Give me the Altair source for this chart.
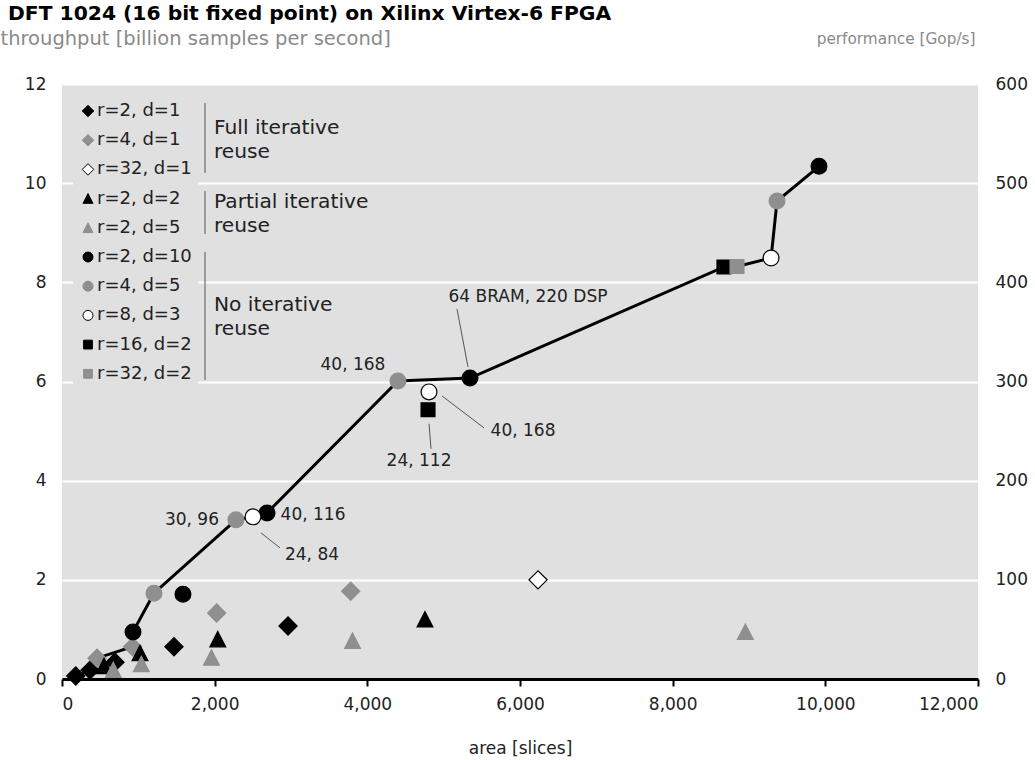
import altair as alt
import pandas as pd

# ---- palette / fonts -------------------------------------------------------
BLACK = "#000000"
GRAY = "#8f8f8f"
WHITE = "#ffffff"
INK = "#222222"
MUTED = "#8a8a8a"
PANEL = "#e0e0e0"
RULE = "#555555"
FONT = "DejaVu Sans"

# unit-box symbol paths so diamonds, triangles and squares read at similar weight
DIAMOND = "M-1.15,0L0,-1.15L1.15,0L0,1.15Z"
TRIANGLE = "M0,-1L1,0.95L-1,0.95Z"
SQUARE = "M-0.88,-0.88H0.88V0.88H-0.88Z"

# ---- design series (radix r, depth d) --------------------------------------
SERIES = ["r=2, d=1", "r=4, d=1", "r=32, d=1",
          "r=2, d=2", "r=2, d=5",
          "r=2, d=10", "r=4, d=5", "r=8, d=3", "r=16, d=2", "r=32, d=2"]
SHAPES = [DIAMOND, DIAMOND, DIAMOND,
          TRIANGLE, TRIANGLE,
          "circle", "circle", "circle", SQUARE, SQUARE]
FILLS = [BLACK, GRAY, WHITE, BLACK, GRAY, BLACK, GRAY, WHITE, BLACK, GRAY]
STROKES = [BLACK, GRAY, BLACK, BLACK, GRAY, BLACK, GRAY, BLACK, BLACK, GRAY]

# area [slices]
area_r2_d1 = [180, 367, 694, 1467, 2961]
area_r4_d1 = [459, 925, 2026, 3782]
area_r32_d1 = [6236]
area_r2_d2 = [550, 1022, 2041, 4755]
area_r2_d5 = [672, 1039, 1958, 3806, 8952]
area_r2_d10 = [930, 1585, 2686, 5345, 9917]
area_r4_d5 = [1205, 2279, 4401, 9367]
area_r8_d3 = [2502, 4808, 9289]
area_r16_d2 = [4795, 8672]
area_r32_d2 = [8843]

# throughput [billion samples per second]
tput_r2_d1 = [0.06, 0.18, 0.34, 0.65, 1.07]
tput_r4_d1 = [0.42, 0.65, 1.33, 1.77]
tput_r32_d1 = [2.0]
tput_r2_d2 = [0.26, 0.52, 0.80, 1.20]
tput_r2_d5 = [0.18, 0.30, 0.43, 0.77, 0.95]
tput_r2_d10 = [0.95, 1.71, 3.35, 6.07, 10.34]
tput_r4_d5 = [1.73, 3.21, 6.01, 9.64]
tput_r8_d3 = [3.27, 5.79, 8.49]
tput_r16_d2 = [5.43, 8.31]
tput_r32_d2 = [8.32]

AREAS = [area_r2_d1, area_r4_d1, area_r32_d1, area_r2_d2, area_r2_d5,
         area_r2_d10, area_r4_d5, area_r8_d3, area_r16_d2, area_r32_d2]
TPUTS = [tput_r2_d1, tput_r4_d1, tput_r32_d1, tput_r2_d2, tput_r2_d5,
         tput_r2_d10, tput_r4_d5, tput_r8_d3, tput_r16_d2, tput_r32_d2]

# resource annotations: (series, point index, text, dx, dy)
NOTES = [
    ("r=2, d=10", 3, "64 BRAM, 220 DSP", 58, -81),
    ("r=4, d=5", 2, "40, 168", -45, -16),
    ("r=8, d=3", 1, "40, 168", 94, 39),
    ("r=16, d=2", 0, "24, 112", -9, 51),
    ("r=4, d=5", 1, "30, 96", -44, 0),
    ("r=2, d=10", 2, "40, 116", 46, 2),
    ("r=8, d=3", 0, "24, 84", 59, 38),
]
# leader lines: (series, point index, start offset, end offset) in px
LEADERS = [
    ("r=2, d=10", 3, (-13, -69), (-2, -11)),
    ("r=8, d=3", 1, (13, 4), (55, 36)),
    ("r=16, d=2", 0, (1, 14), (3, 39)),
    ("r=8, d=3", 0, (8, 16), (27, 31)),
]

# ---- tables ----------------------------------------------------------------
rows = []
for name, xs, ys in zip(SERIES, AREAS, TPUTS):
    for a, t in zip(xs, ys):
        rows.append({"series": name, "area": a, "throughput": t})
points = pd.DataFrame(rows)

# throughput/area Pareto front (the connected designs)
ordered = points.sort_values(["area", "throughput"], ascending=[True, False])
best = float("-inf")
front_rows = []
for _, r in ordered.iterrows():
    if r["throughput"] > best:
        front_rows.append(r)
        best = r["throughput"]
front = pd.DataFrame(front_rows).reset_index(drop=True)
front["order"] = range(len(front))


def point_of(series, idx):
    k = SERIES.index(series)
    return AREAS[k][idx], TPUTS[k][idx]


# ---- scales / axes -----------------------------------------------------------
XS = alt.Scale(domain=[0, 12000], nice=False, zero=True)
YS = alt.Scale(domain=[0, 12], nice=False, zero=True)

X_AXIS = alt.Axis(values=list(range(0, 12001, 2000)), format=",.0f", grid=False,
                  domain=True, domainColor=BLACK, domainWidth=3,
                  ticks=True, tickColor=BLACK, tickWidth=2, tickSize=7,
                  labelPadding=10, zindex=1,
                  title="area [slices]", titlePadding=28)
Y_AXIS = alt.Axis(values=list(range(0, 13, 2)), grid=True, gridColor=WHITE,
                  gridWidth=2, ticks=False, domain=False, labelPadding=16,
                  title="throughput [billion samples per second]",
                  titleAngle=0, titleAlign="left", titleBaseline="middle",
                  titleX=-62, titleY=-46, titleColor=MUTED, titleFontSize=19.5)

x_enc = alt.X("area:Q", scale=XS, axis=X_AXIS)
y_enc = alt.Y("throughput:Q", scale=YS, axis=Y_AXIS)

legend = alt.Legend(orient="none", legendX=11, legendY=12, title=None,
                    fillColor=PANEL, padding=6, rowPadding=11.2,
                    symbolSize=100, symbolStrokeWidth=1, labelOffset=0,
                    labelFontSize=18, labelColor=INK, labelFont=FONT)

front_line = alt.Chart(front).mark_line(color=BLACK, strokeWidth=3).encode(
    x=x_enc, y=y_enc, order="order:Q")

designs = alt.Chart(points).mark_point(
    filled=True, opacity=1, strokeWidth=1.2, size=250).encode(
    x=x_enc, y=y_enc,
    shape=alt.Shape("series:N", scale=alt.Scale(domain=SERIES, range=SHAPES),
                    legend=legend),
    fill=alt.Fill("series:N", scale=alt.Scale(domain=SERIES, range=FILLS),
                  legend=legend),
    stroke=alt.Stroke("series:N", scale=alt.Scale(domain=SERIES, range=STROKES),
                      legend=legend),
)

layers = [front_line]

for series, idx, (sx, sy), (ex, ey) in LEADERS:
    a, t = point_of(series, idx)
    df = pd.DataFrame([{"area": a, "throughput": t}])
    layers.append(alt.Chart(df).mark_rule(
        color=RULE, strokeWidth=1,
        xOffset=sx, yOffset=sy, x2Offset=ex, y2Offset=ey).encode(
        x=x_enc, y=y_enc, x2="area:Q", y2="throughput:Q"))

layers.append(designs)

for series, idx, text, dx, dy in NOTES:
    a, t = point_of(series, idx)
    df = pd.DataFrame([{"area": a, "throughput": t, "label": text}])
    layers.append(alt.Chart(df).mark_text(
        dx=dx, dy=dy, align="center", baseline="middle",
        fontSize=17, color=INK, font=FONT).encode(
        x=x_enc, y=y_enc, text="label:N"))

# legend group captions and brackets (pixel positions inside the plot)
GROUPS = [
    (["Full iterative", "reuse"], 44, (19, 89)),
    (["Partial iterative", "reuse"], 118, (107, 150)),
    (["No iterative", "reuse"], 221, (168, 296)),
]
anchor = pd.DataFrame([{"k": 0}])
for lines, top, (y0, y1) in GROUPS:
    layers.append(alt.Chart(anchor).mark_rule(color=RULE, strokeWidth=1).encode(
        x=alt.value(143), y=alt.value(y0), y2=alt.value(y1)))
    for j, line in enumerate(lines):
        layers.append(alt.Chart(anchor).mark_text(
            align="left", baseline="middle", fontSize=20.2, color=INK,
            font=FONT).encode(
            x=alt.value(152), y=alt.value(top + 23.5 * j), text=alt.value(line)))

left = alt.layer(*layers)

# secondary axis: performance = 50 Gop per billion samples
right = alt.Chart(front).transform_calculate(
    perf="datum.throughput * 50").mark_point(opacity=0).encode(
    x=x_enc,
    y=alt.Y("perf:Q", scale=alt.Scale(domain=[0, 600], nice=False),
            axis=alt.Axis(orient="right", values=list(range(0, 601, 100)),
                          grid=False, ticks=False, domain=False,
                          labelPadding=17,
                          title="performance [Gop/s]", titleAngle=0,
                          titleAlign="right", titleBaseline="middle",
                          titleX=-3, titleY=-46, titleColor=MUTED,
                          titleFontSize=15.3)))

chart = alt.layer(left, right).resolve_scale(y="independent").properties(
    width=916, height=595,
    autosize=alt.AutoSizeParams(type="none"),
    padding={"left": 62, "top": 84, "right": 57, "bottom": 81},
    title=alt.TitleParams(
        "DFT 1024 (16 bit fixed point) on Xilinx Virtex-6 FPGA",
        anchor="start", frame="group", dx=-54, offset=4,
        fontSize=20.3, fontWeight="bold", color=BLACK, font=FONT),
).configure(font=FONT).configure_view(fill=PANEL, stroke=None).configure_axis(
    labelFont=FONT, labelFontSize=17, labelColor=INK,
    titleFont=FONT, titleFontSize=17, titleColor=INK, titleFontWeight="normal",
)

chart.save("out.html", embed_options={"renderer": "svg", "actions": False})
